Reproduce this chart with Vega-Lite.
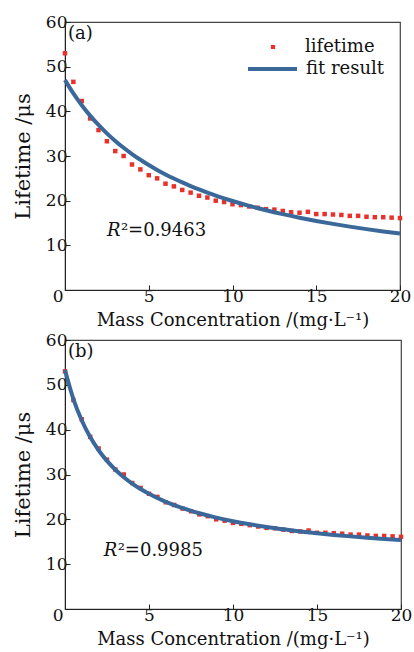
{
  "$schema": "https://vega.github.io/schema/vega-lite/v6.json",
  "padding": {"left": 11, "top": 12, "right": 2, "bottom": 2},
  "spacing": 0,
  "config": {
    "font": "DejaVu Serif",
    "view": {"stroke": "#444", "strokeWidth": 1.2},
    "axis": {"grid": false, "domainColor": "#222", "tickColor": "#222", "labelColor": "#111", "titleColor": "#111", "labelFont": "DejaVu Serif", "titleFont": "DejaVu Serif", "labelFontSize": 17, "titleFontSize": 18, "titleFontWeight": "normal", "tickSize": -5, "labelPadding": 3},
    "axisX": {"labelFlush": false, "titlePadding": 7},
    "axisY": {"titleFontSize": 21, "titlePadding": 12},
    "legend": {"orient": "none", "title": null, "padding": 0, "clipHeight": 20, "rowPadding": 2, "labelFontSize": 18, "labelFont": "DejaVu Serif", "labelColor": "#111"}
  },
  "datasets": {
    "life": [
      {"c": 0, "t": 53.0}, {"c": 0.5, "t": 46.6}, {"c": 1, "t": 42.3}, {"c": 1.5, "t": 38.4}, {"c": 2, "t": 35.8},
      {"c": 2.5, "t": 33.3}, {"c": 3, "t": 31.1}, {"c": 3.5, "t": 30.0}, {"c": 4, "t": 28.1}, {"c": 4.5, "t": 27.0},
      {"c": 5, "t": 25.7}, {"c": 5.5, "t": 25.0}, {"c": 6, "t": 23.8}, {"c": 6.5, "t": 23.2}, {"c": 7, "t": 22.4},
      {"c": 7.5, "t": 21.8}, {"c": 8, "t": 21.1}, {"c": 8.5, "t": 20.7}, {"c": 9, "t": 20.0}, {"c": 9.5, "t": 19.7},
      {"c": 10, "t": 19.2}, {"c": 10.5, "t": 19.0}, {"c": 11, "t": 18.7}, {"c": 11.5, "t": 18.4}, {"c": 12, "t": 18.1},
      {"c": 12.5, "t": 18.0}, {"c": 13, "t": 17.7}, {"c": 13.5, "t": 17.4}, {"c": 14, "t": 17.3}, {"c": 14.5, "t": 17.5},
      {"c": 15, "t": 17.0}, {"c": 15.5, "t": 17.0}, {"c": 16, "t": 16.9}, {"c": 16.5, "t": 16.8}, {"c": 17, "t": 16.6},
      {"c": 17.5, "t": 16.6}, {"c": 18, "t": 16.4}, {"c": 18.5, "t": 16.3}, {"c": 19, "t": 16.3}, {"c": 19.5, "t": 16.2},
      {"c": 20, "t": 16.1}
    ],
    "fitA": [
      {"c": 0, "t": 47.0}, {"c": 0.5, "t": 44.0}, {"c": 1, "t": 41.37}, {"c": 1.5, "t": 39.04}, {"c": 2, "t": 36.95},
      {"c": 2.5, "t": 35.07}, {"c": 3, "t": 33.38}, {"c": 3.5, "t": 31.84}, {"c": 4, "t": 30.44}, {"c": 4.5, "t": 29.16},
      {"c": 5, "t": 27.98}, {"c": 5.5, "t": 26.89}, {"c": 6, "t": 25.88}, {"c": 6.5, "t": 24.95}, {"c": 7, "t": 24.08},
      {"c": 7.5, "t": 23.27}, {"c": 8, "t": 22.51}, {"c": 8.5, "t": 21.8}, {"c": 9, "t": 21.13}, {"c": 9.5, "t": 20.51},
      {"c": 10, "t": 19.92}, {"c": 11, "t": 18.83}, {"c": 12, "t": 17.86}, {"c": 13, "t": 16.98}, {"c": 14, "t": 16.18},
      {"c": 15, "t": 15.46}, {"c": 16, "t": 14.8}, {"c": 17, "t": 14.19}, {"c": 18, "t": 13.63}, {"c": 19, "t": 13.11},
      {"c": 20, "t": 12.63}
    ],
    "fitB": [
      {"c": 0, "t": 53.3}, {"c": 0.5, "t": 46.82}, {"c": 1, "t": 42.03}, {"c": 1.5, "t": 38.34}, {"c": 2, "t": 35.41},
      {"c": 2.5, "t": 33.03}, {"c": 3, "t": 31.06}, {"c": 3.5, "t": 29.4}, {"c": 4, "t": 27.98}, {"c": 4.5, "t": 26.76},
      {"c": 5, "t": 25.69}, {"c": 5.5, "t": 24.75}, {"c": 6, "t": 23.91}, {"c": 7, "t": 22.5}, {"c": 8, "t": 21.35},
      {"c": 9, "t": 20.39}, {"c": 10, "t": 19.58}, {"c": 11, "t": 18.89}, {"c": 12, "t": 18.29}, {"c": 13, "t": 17.77},
      {"c": 14, "t": 17.3}, {"c": 15, "t": 16.89}, {"c": 16, "t": 16.53}, {"c": 17, "t": 16.2}, {"c": 18, "t": 15.9},
      {"c": 19, "t": 15.63}, {"c": 20, "t": 15.39}
    ],
    "one": [{}]
  },
  "vconcat": [
    {
      "width": 335,
      "height": 268,
      "layer": [
        {
          "data": {"name": "life"},
          "mark": {"type": "point", "shape": "square", "filled": true, "size": 20, "opacity": 1},
          "encoding": {
            "x": {"field": "c", "type": "quantitative", "scale": {"domain": [0, 20], "nice": false},
                  "axis": {"title": "Mass Concentration /(mg·L⁻¹)", "values": [0, 5, 10, 15, 20],
                           "labelAlign": {"condition": {"test": "datum.value === 0", "value": "right"}, "value": "center"},
                           "labelOffset": {"condition": {"test": "datum.value === 0", "value": -2}, "value": 0}}},
            "y": {"field": "t", "type": "quantitative", "scale": {"domain": [0, 60], "nice": false},
                  "axis": {"title": "Lifetime /μs", "values": [10, 20, 30, 40, 50, 60]}},
            "fill": {"datum": "lifetime", "type": "nominal",
              "scale": {"domain": ["lifetime"], "range": ["#e8312b"]},
              "legend": {"legendX": 199, "legendY": 15, "symbolType": "square", "symbolSize": 18, "symbolStrokeWidth": 0, "labelOffset": 23}}
          }
        },
        {
          "data": {"name": "fitA"},
          "mark": {"type": "line", "strokeWidth": 4, "interpolate": "monotone"},
          "encoding": {
            "x": {"field": "c", "type": "quantitative"},
            "y": {"field": "t", "type": "quantitative"},
            "stroke": {"datum": "fit result", "type": "nominal",
              "scale": {"domain": ["fit result"], "range": ["#3a689a"]},
              "legend": {"legendX": 181, "legendY": 37, "symbolType": "stroke", "symbolSize": 2400, "symbolStrokeWidth": 4, "labelOffset": 7}}
          }
        },
        {
          "data": {"name": "one"},
          "mark": {"type": "text", "text": "(a)", "align": "left", "baseline": "top", "dx": 3, "dy": 3, "fontSize": 18, "color": "#111"},
          "encoding": {"x": {"datum": 0, "type": "quantitative"}, "y": {"datum": 60, "type": "quantitative"}}
        },
        {
          "data": {"name": "one"},
          "mark": {"type": "text", "text": "R", "fontStyle": "italic", "align": "left", "baseline": "middle", "fontSize": 18, "color": "#111"},
          "encoding": {"x": {"datum": 2.5, "type": "quantitative"}, "y": {"datum": 13.1, "type": "quantitative"}}
        },
        {
          "data": {"name": "one"},
          "mark": {"type": "text", "text": "²=0.9463", "align": "left", "baseline": "middle", "dx": 14, "fontSize": 18, "color": "#111"},
          "encoding": {"x": {"datum": 2.5, "type": "quantitative"}, "y": {"datum": 13.1, "type": "quantitative"}}
        }
      ]
    },
    {
      "width": 336,
      "height": 269,
      "layer": [
        {
          "data": {"name": "life"},
          "mark": {"type": "point", "shape": "square", "filled": true, "size": 20, "opacity": 1},
          "encoding": {
            "x": {"field": "c", "type": "quantitative", "scale": {"domain": [0, 20], "nice": false},
                  "axis": {"title": "Mass Concentration /(mg·L⁻¹)", "values": [0, 5, 10, 15, 20],
                           "labelAlign": {"condition": {"test": "datum.value === 0", "value": "right"}, "value": "center"},
                           "labelOffset": {"condition": {"test": "datum.value === 0", "value": -2}, "value": 0}}},
            "y": {"field": "t", "type": "quantitative", "scale": {"domain": [0, 60], "nice": false},
                  "axis": {"title": "Lifetime /μs", "values": [10, 20, 30, 40, 50, 60]}},
            "fill": {"datum": "lifetime", "type": "nominal",
              "scale": {"domain": ["lifetime"], "range": ["#e8312b"]},
              "legend": {"legendX": 197, "legendY": 16, "symbolType": "square", "symbolSize": 18, "symbolStrokeWidth": 0, "labelOffset": 23}}
          }
        },
        {
          "data": {"name": "fitB"},
          "mark": {"type": "line", "strokeWidth": 4, "interpolate": "monotone"},
          "encoding": {
            "x": {"field": "c", "type": "quantitative"},
            "y": {"field": "t", "type": "quantitative"},
            "stroke": {"datum": "fit result", "type": "nominal",
              "scale": {"domain": ["fit result"], "range": ["#3a689a"]},
              "legend": {"legendX": 179, "legendY": 38, "symbolType": "stroke", "symbolSize": 2400, "symbolStrokeWidth": 4, "labelOffset": 7}}
          }
        },
        {
          "data": {"name": "one"},
          "mark": {"type": "text", "text": "(b)", "align": "left", "baseline": "top", "dx": 3, "dy": 3, "fontSize": 18, "color": "#111"},
          "encoding": {"x": {"datum": 0, "type": "quantitative"}, "y": {"datum": 60, "type": "quantitative"}}
        },
        {
          "data": {"name": "one"},
          "mark": {"type": "text", "text": "R", "fontStyle": "italic", "align": "left", "baseline": "middle", "fontSize": 18, "color": "#111"},
          "encoding": {"x": {"datum": 2.3, "type": "quantitative"}, "y": {"datum": 12.9, "type": "quantitative"}}
        },
        {
          "data": {"name": "one"},
          "mark": {"type": "text", "text": "²=0.9985", "align": "left", "baseline": "middle", "dx": 14, "fontSize": 18, "color": "#111"},
          "encoding": {"x": {"datum": 2.3, "type": "quantitative"}, "y": {"datum": 12.9, "type": "quantitative"}}
        }
      ]
    }
  ]
}
